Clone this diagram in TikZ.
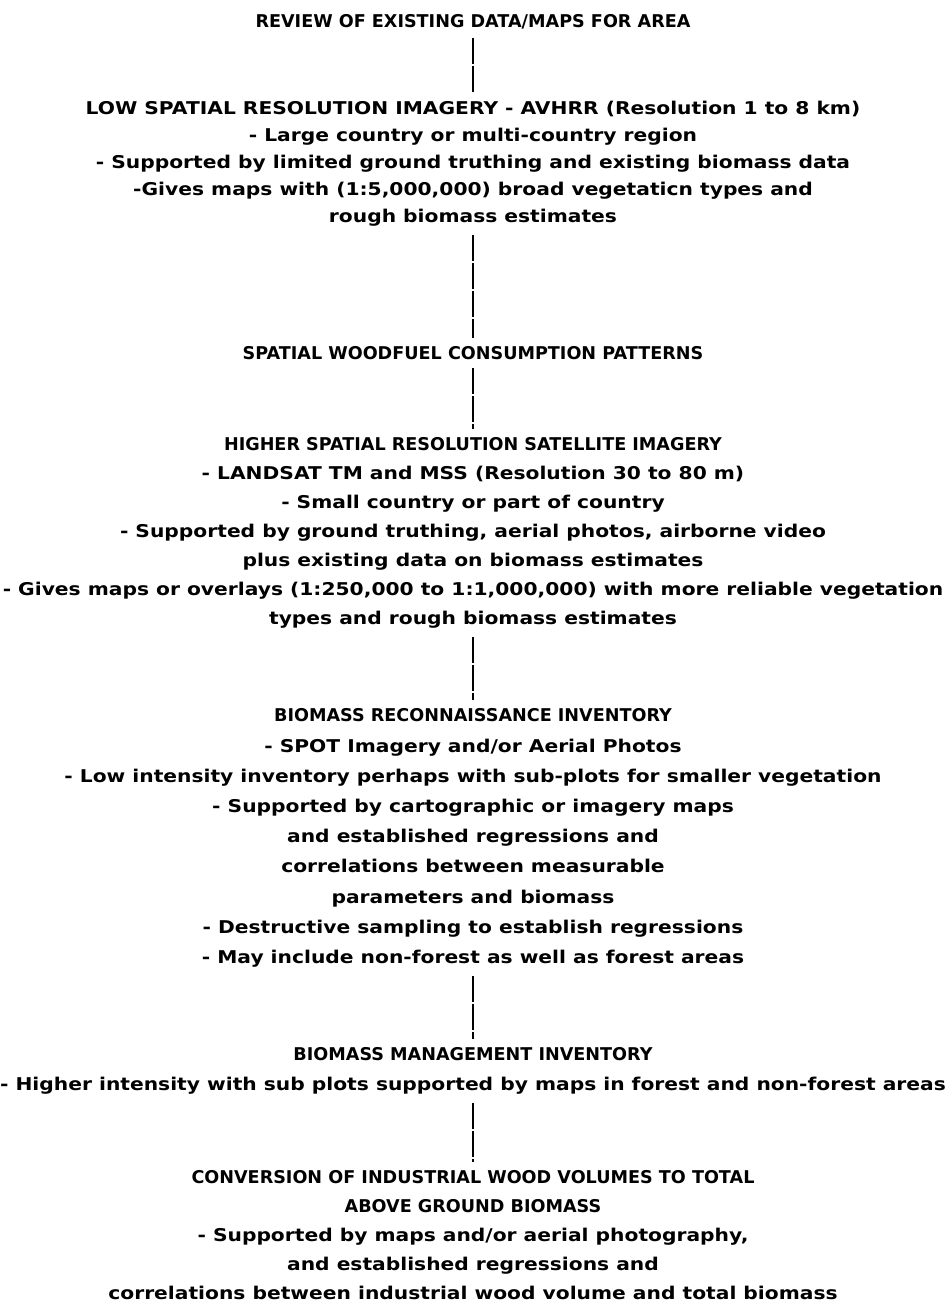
\documentclass[tikz,border=0pt]{standalone}
\usepackage{fontspec}
\setmainfont{DejaVu Sans}
\newfontfamily\widefont[FakeStretch=1.15]{DejaVu Sans}
\usepackage{tikz}
\usetikzlibrary{arrows}

\newcommand{\capsline}[1]{{\rmfamily\bfseries #1}}

\begin{document}
\begin{tikzpicture}[x=0.5pt, y=-0.5pt,
					stage/.style={align=center, inner sep=3pt, font=\widefont\bfseries\fontsize{8.8}{14.5}\selectfont},
					link/.style={line width=1.2pt, dash pattern=on 13pt off 1pt, shorten <=1pt, shorten >=1pt}]
					% Bildbereich
					\useasboundingbox (0,0) rectangle (946,1304);
					% Stufen
					\node[stage] (review) at (473,22) {\capsline{REVIEW OF EXISTING DATA/MAPS FOR AREA}};
					\node[stage, font=\widefont\bfseries\fontsize{8.8}{13.5}\selectfont] (low) at (473,164) {LOW SPATIAL RESOLUTION IMAGERY - AVHRR (Resolution 1 to 8 km)\\
						- Large country or multi-country region\\
						- Supported by limited ground truthing and existing biomass data\\
						-Gives maps with (1:5,000,000) broad vegetaticn types and\\
						rough biomass estimates};
					\node[stage] (woodfuel) at (473,353) {\capsline{SPATIAL WOODFUEL CONSUMPTION PATTERNS}};
					\node[stage] (higher) at (473,533) {\capsline{HIGHER SPATIAL RESOLUTION SATELLITE IMAGERY}\\
						- LANDSAT TM and MSS (Resolution 30 to 80 m)\\
						- Small country or part of country\\
						- Supported by ground truthing, aerial photos, airborne video\\
						plus existing data on biomass estimates\\
						- Gives maps or overlays (1:250,000 to 1:1,000,000) with more reliable vegetation\\
						types and rough biomass estimates};
					\node[stage, font=\widefont\bfseries\fontsize{8.8}{15.1}\selectfont] (recon) at (473,838) {\capsline{BIOMASS RECONNAISSANCE INVENTORY}\\
						- SPOT Imagery and/or Aerial Photos\\
						- Low intensity inventory perhaps with sub-plots for smaller vegetation\\
						- Supported by cartographic or imagery maps\\
						and established regressions and\\
						correlations between measurable\\
						parameters and biomass\\
						- Destructive sampling to establish regressions\\
						- May include non-forest as well as forest areas};
					\node[stage, font=\widefont\bfseries\fontsize{8.8}{15}\selectfont] (mgmt) at (473,1071) {\capsline{BIOMASS MANAGEMENT INVENTORY}\\
						- Higher intensity with sub plots supported by maps in forest and non-forest areas};
					\node[stage, font=\widefont\bfseries\fontsize{8.8}{14.6}\selectfont] (convert) at (473,1235) {\capsline{CONVERSION OF INDUSTRIAL WOOD VOLUMES TO TOTAL}\\
						\capsline{ABOVE GROUND BIOMASS}\\
						- Supported by maps and/or aerial photography,\\
						and established regressions and\\
						correlations between industrial wood volume and total biomass};
					% Verbindungen
					\foreach \a/\b in {review/low, low/woodfuel, woodfuel/higher, higher/recon, recon/mgmt, mgmt/convert}
						\draw[link] (\a.south) -- (\b.north);
				\end{tikzpicture}
\end{document}
